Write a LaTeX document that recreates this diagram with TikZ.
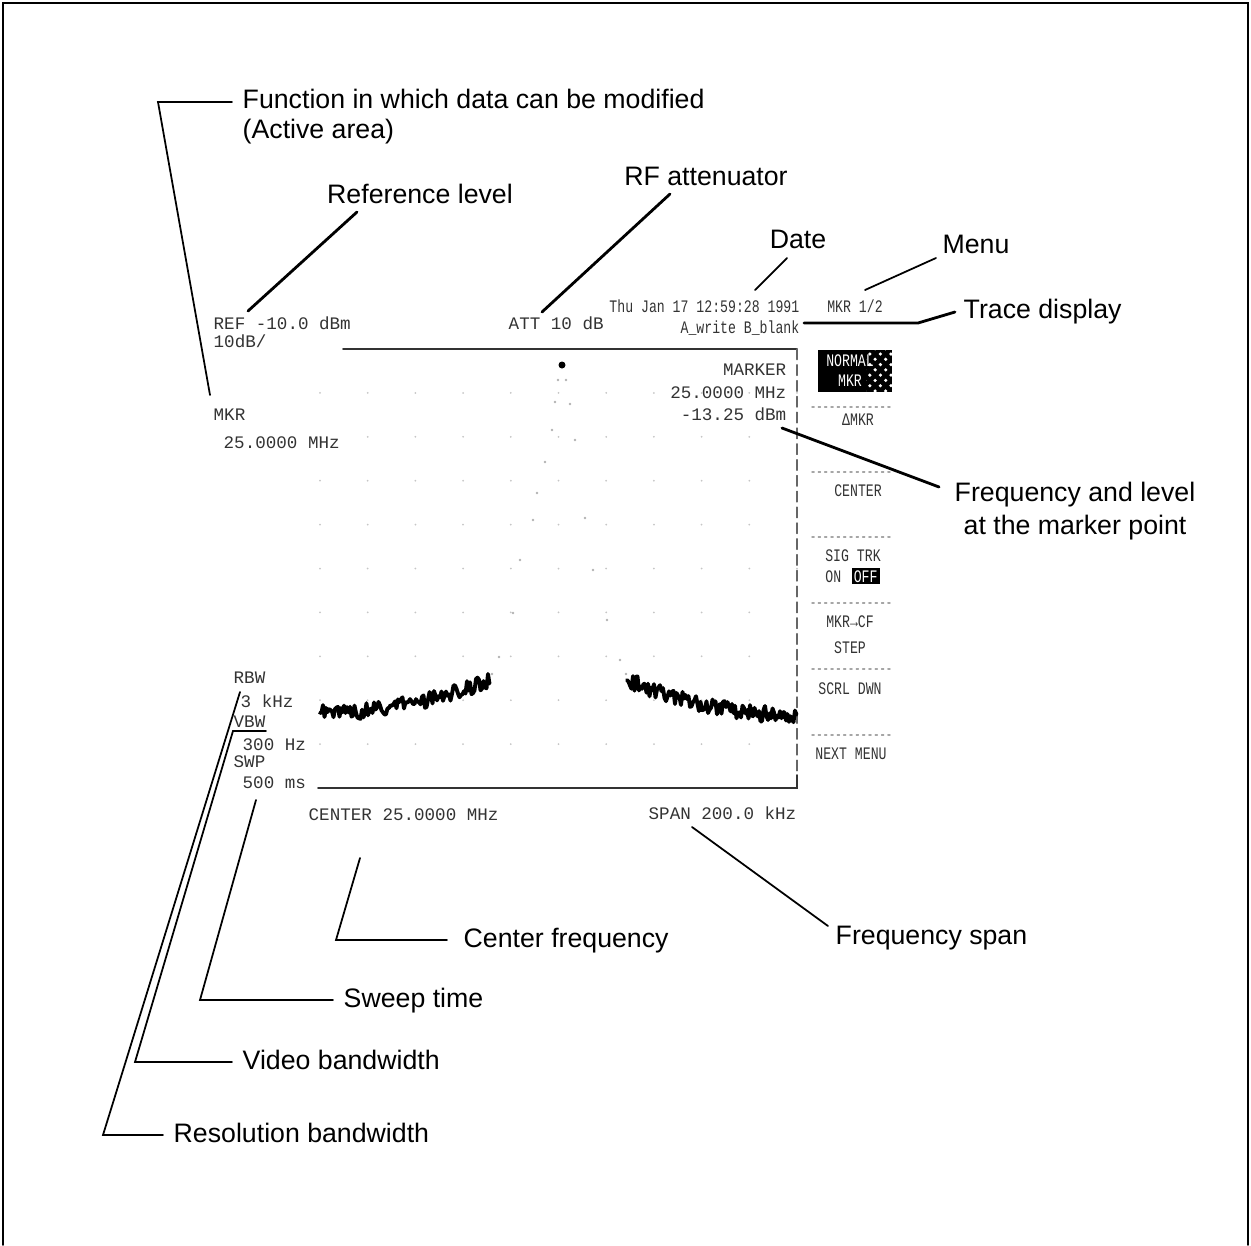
\documentclass[tikz,border=0pt]{standalone}
\usepackage{fontspec}
\setmainfont{Liberation Sans}
\setmonofont{Liberation Mono}
\usepackage{tikz}
\usetikzlibrary{positioning,patterns}
\newcommand{\tightmono}[1]{\scalebox{0.75}[1]{#1}}

\begin{document}
\begin{tikzpicture}[x=0.1mm,y=-0.1mm,line cap=round]
  \tikzstyle{callout}=[inner sep=0pt,font=\fontsize{7.6}{9.4}\selectfont]
  \tikzstyle{scr}=[inner sep=0pt,text=black!80,font=\fontsize{5}{6}\selectfont\ttfamily]
  \tikzstyle{softkey}=[scr,anchor=base]
  \tikzstyle{lead}=[line width=0.5pt]
  \tikzstyle{boldlead}=[lead,line width=0.8pt]
  \tikzstyle{trace}=[line width=1.1pt,line join=round]
  \tikzstyle{sep}=[gray!70,line width=0.4pt,dash pattern=on 0.6pt off 1.2pt]
  \useasboundingbox (0,0) rectangle (1251,1245);
  \draw[line width=0.5pt] (3,1245) -- (3,3) -- (1248,3) -- (1248,1245);

  \foreach \i in {0,...,10}
    \foreach \j in {1,...,9}
      \fill[gray!45] ({320+47.7*\i},{349+43.9*\j}) circle (1);
  \draw[line width=0.5pt,black!80] (343,349) -- (797,349);
  \draw[line width=0.4pt,black!60,dash pattern=on 3pt off 1.5pt] (797,349) -- (797,775);
  \draw[line width=0.5pt,black!80] (318,788) -- (797,788) -- (797,775);

  \pgfmathsetseed{1991}
  \draw[trace] (320,713) \foreach \x in {321.5,323,...,490} { -- (\x,{713-33*((\x-320)/170)^2+8*rand}) };
  \draw[trace] (627,680) \foreach \x in {628.5,630,...,797} { -- (\x,{715-35*(1-(\x-627)/170)^2+8*rand}) };
  \foreach \p in {(558,380),(555,402),(552,430),(545,462),(537,493),(533,520),(520,560),(513,613),(499,657),(492,674),
                  (566,380),(570,404),(575,440),(585,518),(593,570),(607,620),(620,660),(626,674)}
    \fill[gray!60] \p circle (1.3);
  \fill (562,365) circle (3.5);

  \node[scr,anchor=base west] (ref) at (213,329) {REF -10.0 dBm};
  \node[scr,anchor=base west] (div) at (213,347) {10dB/};
  \node[scr,anchor=base west] (mkrhd) at (213,420) {MKR};
  \node[scr,anchor=base west] (mkrval) at (223,448) {25.0000 MHz};
  \node[scr,anchor=base west] (att) at (508,329) {ATT 10 dB};
  \node[scr,anchor=base east] (date) at (800,312) {\tightmono{Thu Jan 17 12:59:28 1991}};
  \node[scr,anchor=base east] (trc) at (800,333) {\tightmono{A\_write B\_blank}};
  \node[scr,anchor=base east] (mhd) at (787,375) {MARKER};
  \node[scr,anchor=base east] (mfrq) at (787,398) {25.0000 MHz};
  \node[scr,anchor=base east] (mlev) at (787,420) {-13.25 dBm};
  \node[scr,anchor=base west] (rbw) at (233,683) {RBW};
  \node[scr,anchor=base west] (rbwv) at (240,707) {3 kHz};
  \node[scr,anchor=base west] (vbw) at (233,727) {VBW};
  \node[scr,anchor=base west] (vbwv) at (242,750) {300 Hz};
  \node[scr,anchor=base west] (swp) at (233,767) {SWP};
  \node[scr,anchor=base west] (swpv) at (242,788) {500 ms};
  \node[scr,anchor=base west] (cf) at (308,820) {CENTER 25.0000 MHz};
  \node[scr,anchor=base east] (span) at (797,819) {SPAN 200.0 kHz};

  \node[softkey] (mkrpg) at (855,312) {\tightmono{MKR 1/2}};
  \node[fill=black,minimum width=7.4mm,minimum height=4.2mm,inner sep=0pt] (nmkr) at (855,371) {};
  \fill[pattern=crosshatch dots,pattern color=white] (866,350) rectangle (892,392);
  \node[softkey,text=white] (k1a) at (850,366) {\tightmono{NORMAL}};
  \node[softkey,text=white] (k1b) at (850,386) {\tightmono{MKR}};
  \node[softkey] (k2) at (858,425) {\tightmono{ΔMKR}};
  \node[softkey] (k3) at (858,496) {\tightmono{CENTER}};
  \node[softkey] (k4a) at (853,561) {\tightmono{SIG TRK}};
  \node[softkey,anchor=base east] (k4on) at (842,582) {\tightmono{ON}};
  \node[scr,fill=black,text=white,inner sep=0.6pt,right=0.9mm of k4on.base east,anchor=base west] (k4off) {\tightmono{OFF}};
  \node[softkey] (k5a) at (850,627) {\tightmono{MKR→CF}};
  \node[softkey] (k5b) at (850,653) {\tightmono{STEP}};
  \node[softkey] (k6) at (850,694) {\tightmono{SCRL DWN}};
  \node[softkey] (k7) at (851,759) {\tightmono{NEXT MENU}};
  \foreach \y in {407,472,537,603,669,735}
    \draw[sep] (812,\y) -- (893,\y);

  \node[callout,anchor=base west] (fn) at (242,108) {Function in which data can be modified};
  \node[callout,anchor=base west] (act) at ([yshift=-8.8pt]fn.base west) {(Active area)};
  \node[callout,anchor=base] (reflvl) at (420,203) {Reference level};
  \node[callout,anchor=base] (rfatt) at (706,185) {RF attenuator};
  \node[callout,anchor=base] (datelbl) at (798,248) {Date};
  \node[callout,anchor=base] (menulbl) at (976,253) {Menu};
  \node[callout,anchor=base west] (trclbl) at (963,318) {Trace display};
  \node[callout,anchor=base] (fl1) at (1075,501) {Frequency and level};
  \node[callout,anchor=base] (fl2) at (1075,534) {at the marker point};
  \node[callout,anchor=base west] (cflbl) at (463,947) {Center frequency};
  \node[callout,anchor=base west] (spanlbl) at (835,944) {Frequency span};
  \node[callout,anchor=base west] (swplbl) at (343,1007) {Sweep time};
  \node[callout,anchor=base west] (vbwlbl) at (242,1069) {Video bandwidth};
  \node[callout,anchor=base west] (rbwlbl) at (173,1142) {Resolution bandwidth};

  \coordinate (fnk) at (158,102);
  \coordinate (trck) at (918,323);
  \coordinate (cfk) at (336,940);
  \coordinate (swpk) at (200,1000);
  \coordinate (vbwk) at (135,1062);
  \coordinate (rbwk) at (103,1135);

  \draw[lead] ([shift={(-10,-6)}]fn.base west) -- (fnk) -- ([shift={(-3,-25)}]mkrhd.base west);
  \draw[boldlead] ([shift={(-63,9)}]reflvl.base) -- ([shift={(35,-18)}]ref.base west);
  \draw[boldlead] ([shift={(-36,9)}]rfatt.base) -- ([shift={(34,-17)}]att.base west);
  \draw[lead] ([shift={(-11,10)}]datelbl.base) -- ([shift={(-45,-22)}]date.base east);
  \draw[lead] ([shift={(-40,5)}]menulbl.base) -- ([shift={(10,-22)}]mkrpg.base);
  \draw[boldlead] ([shift={(-8,-6)}]trclbl.base west) -- (trck) -- ([shift={(4,-10)}]trc.base east);
  \draw[boldlead] ([shift={(-15,-14)}]fl1.base west) -- ([shift={(-5,8)}]mlev.base east);
  \draw[lead] ([shift={(-16,-7)}]cflbl.base west) -- (cfk) -- ([shift={(52,38)}]cf.base west);
  \draw[lead] ([shift={(-7,-18)}]spanlbl.base west) -- ([shift={(-105,8)}]span.base east);
  \draw[lead] ([shift={(-10,-7)}]swplbl.base west) -- (swpk) -- ([shift={(14,12)}]swpv.base west);
  \draw[lead] ([shift={(-10,-7)}]vbwlbl.base west) -- (vbwk) -- ([shift={(0,4)}]vbw.base west) -- ([shift={(0,4)}]vbw.base east);
  \draw[lead] ([shift={(-10,-7)}]rbwlbl.base west) -- (rbwk) -- ([shift={(7,9)}]rbw.base west);
\end{tikzpicture}
\end{document}
